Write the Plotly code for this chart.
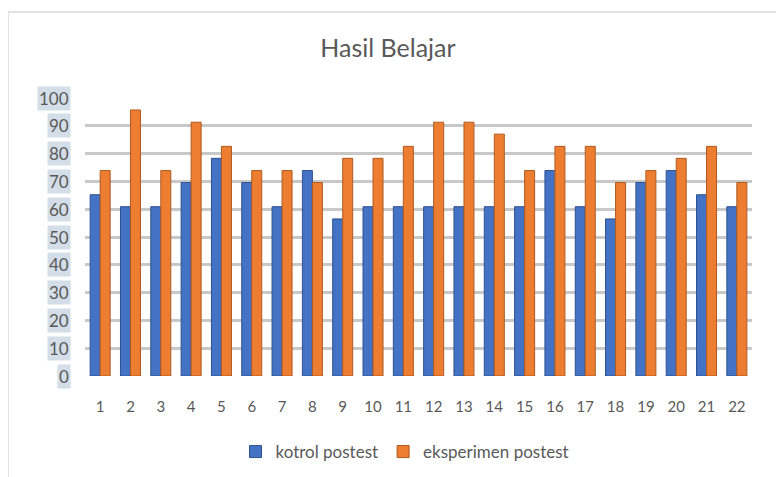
import plotly.graph_objects as go

categories = [str(i) for i in range(1, 23)]
kontrol = [65.2, 60.9, 60.9, 69.6, 78.3, 69.6, 60.9, 73.9, 56.5, 60.9, 60.9,
           60.9, 60.9, 60.9, 60.9, 73.9, 60.9, 56.5, 69.6, 73.9, 65.2, 60.9]
eksperimen = [73.9, 95.7, 73.9, 91.3, 82.6, 73.9, 73.9, 69.6, 78.3, 78.3, 82.6,
              91.3, 91.3, 87.0, 73.9, 82.6, 82.6, 69.6, 73.9, 78.3, 82.6, 69.6]
y_ticks = [0, 10, 20, 30, 40, 50, 60, 70, 80, 90, 100]

W, H = 784, 477
OX, OY = 8, 8  # page body margin
# plot area in page pixels
PL, PR, PT, PB = 85, 752, 98, 376
L, T = PL - OX, PT - OY
R, B = W - (PR - OX), H - (PB - OY)
pw, ph = PR - PL, PB - PT
def px(x):
    return (x - PL) / pw
def py(y):
    return (PB - y) / ph

fig = go.Figure()
fig.add_trace(go.Bar(x=categories, y=kontrol, name="kotrol postest",
                     marker=dict(color="#4472C4", line=dict(color="#2F528F", width=1))))
fig.add_trace(go.Bar(x=categories, y=eksperimen, name="eksperimen postest",
                     marker=dict(color="#ED7D31", line=dict(color="#AE5A21", width=1))))

annotations = []
for t in y_ticks:
    annotations.append(dict(x=px(71), xref="paper", y=t, yref="y", text=str(t),
                            showarrow=False, xanchor="right", yanchor="middle",
                            bgcolor="#D3DEE8", borderpad=1,
                            font=dict(family="Lato, Open Sans, sans-serif", size=17, color="#595959")))

fig.update_layout(
    width=W, height=H,
    margin=dict(l=L, r=R, t=T, b=B, autoexpand=False),
    paper_bgcolor="white", plot_bgcolor="white",
    title=dict(text="Hasil Belajar", x=(388 - OX) / W, xref="container", xanchor="center",
               y=1 - (48 - OY) / H, yanchor="middle",
               font=dict(family="Lato, Open Sans, sans-serif", size=25, color="#595959")),
    barmode="group", bargap=0.34, bargroupgap=0.0,
    xaxis=dict(showgrid=False, zeroline=False, showline=False, ticks="",
               ticklabelstandoff=20, range=[-0.5, 21.5],
               tickfont=dict(family="Lato, Open Sans, sans-serif", size=15, color="#595959")),
    yaxis=dict(range=[0, 100], tickvals=y_ticks, showticklabels=False,
               showgrid=True, gridcolor="#C8C8C8", gridwidth=2.5, zeroline=False, showline=False),
    legend=dict(orientation="h", x=px(405), xanchor="center", y=py(452), yanchor="middle",
                font=dict(family="Lato, Open Sans, sans-serif", size=17, color="#595959"),
                traceorder="normal"),
    annotations=annotations,
    shapes=[dict(type="rect", xref="paper", yref="paper", x0=px(8), x1=px(800),
                 y0=py(500), y1=py(12), line=dict(color="#D9D9D9", width=1.5),
                 fillcolor="rgba(0,0,0,0)", layer="below")],
)

fig.write_html("out.html")
